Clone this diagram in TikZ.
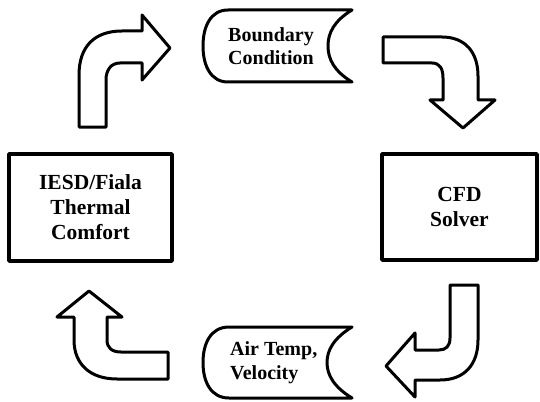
\documentclass[tikz,border=0pt]{standalone}
\usepackage{fontspec}
\setmainfont{Liberation Serif}
\begin{document}
\begin{tikzpicture}[x=1pt,y=-1pt,
  blockarrow/.style={draw=black,fill=white,line width=3pt,line join=round},
  procbox/.style={draw=black,fill=white,line width=3.5pt,line join=round,
    rectangle,inner sep=0pt,align=center,
    font=\fontsize{21.5}{25}\selectfont\bfseries},
  datashape/.style={draw=black,fill=white,line width=3pt,line join=round},
  datatext/.style={inner sep=0pt,font=\fontsize{20}{23.5}\selectfont\bfseries}]
\useasboundingbox (0,0) rectangle (540,401);

% process boxes
\node[procbox,minimum width=163pt,minimum height=107pt] (iesd) at (90.5,207.5)
  {IESD/Fiala\\Thermal\\Comfort};
\node[procbox,minimum width=155pt,minimum height=106pt] (cfd) at (459.5,207)
  {CFD\\Solver};

% stored-data shapes
\draw[datashape] (228,10) -- (352,10)
  .. controls (334,21) and (328,33) .. (328,46)
  .. controls (328,59) and (334,71) .. (352,82)
  -- (228,82)
  .. controls (211,82) and (203,66) .. (203,46)
  .. controls (203,26) and (211,10) .. (228,10) -- cycle;
\node[datatext,align=center] (bc) at (271,46) {Boundary\\Condition};

\draw[datashape] (229,327) -- (352,327)
  .. controls (334,338) and (327,350) .. (327,362.5)
  .. controls (327,375) and (334,387) .. (352,398)
  -- (229,398)
  .. controls (211,398) and (203,382) .. (203,362.5)
  .. controls (203,343) and (211,327) .. (229,327) -- cycle;
\node[datatext,align=left,anchor=west] (air) at (230,362.5) {Air Temp,\\Velocity};

% block arrows around the loop
% up, then right
\draw[blockarrow] (79,127) -- (79,75)
  .. controls (79,47) and (94,31) .. (122,31)
  -- (142,31) -- (142,15) -- (170,48) -- (142,80) -- (142,63) -- (120,63)
  .. controls (111,63) and (106,70) .. (106,80)
  -- (106,127) -- cycle;
% right, then down
\draw[blockarrow] (383,37) -- (442,37)
  .. controls (465,37) and (478,52) .. (478,76)
  -- (478,100) -- (495,100) -- (463,128) -- (430,100) -- (443,100) -- (443,78)
  .. controls (443,69) and (440,63) .. (432,63)
  -- (383,63) -- cycle;
% down, then left
\draw[blockarrow] (450,285) -- (478,285) -- (478,340)
  .. controls (478,364) and (465,380) .. (440,380)
  -- (415,380) -- (415,397) -- (386,366) -- (415,333) -- (415,350) -- (439,350)
  .. controls (446,350) and (450,346) .. (450,338) -- cycle;
% left, then up
\draw[blockarrow] (168,352) -- (121,352)
  .. controls (112,352) and (107,348) .. (107,340)
  -- (107,317) -- (122,317) -- (89,291) -- (57,317) -- (74,317) -- (74,340)
  .. controls (74,364) and (90,379) .. (117,379)
  -- (168,379) -- cycle;
\end{tikzpicture}
\end{document}
